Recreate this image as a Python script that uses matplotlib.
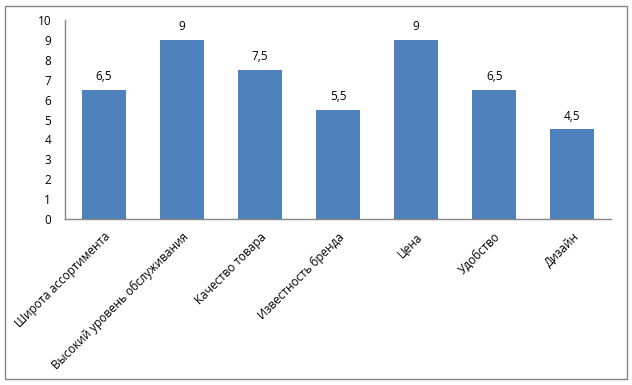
import matplotlib
matplotlib.use('Agg')
import matplotlib.pyplot as plt
from matplotlib.patches import Rectangle

categories = ['Широта ассортимента', 'Высокий уровень обслуживания', 'Качество товара',
              'Известность бренда', 'Цена', 'Удобство', 'Дизайн']
values = [6.5, 9, 7.5, 5.5, 9, 6.5, 4.5]
y_ticks = list(range(0, 11))

plt.rcParams['font.family'] = ['Open Sans', 'DejaVu Sans']

fig = plt.figure(figsize=(6.32, 3.85), dpi=100)
ax = fig.add_axes([0.103, 0.431, 0.864, 0.517])

x = range(len(categories))
bars = ax.bar(x, values, width=0.57, color='#4F81BD', zorder=2)

for b, v in zip(bars, values):
    txt = ('%g' % v).replace('.', ',')
    ax.annotate(txt, (b.get_x() + b.get_width() / 2, v), xytext=(0, 5),
                textcoords='offset points', ha='center', va='bottom', fontsize=8.5)

ax.set_xlim(-0.5, len(categories) - 0.5)
ax.set_ylim(0, 10)
ax.set_yticks(y_ticks)
ax.set_xticks(list(x))
ax.set_xticklabels(categories, rotation=45, ha='right', rotation_mode='anchor', fontsize=8.5)
ax.tick_params(axis='both', length=0, labelsize=8.5)
ax.tick_params(axis='y', pad=10)
ax.tick_params(axis='x', pad=8)

for s in ['top', 'right']:
    ax.spines[s].set_visible(False)
for s in ['left', 'bottom']:
    ax.spines[s].set_color('#868686')
    ax.spines[s].set_linewidth(1)

# chart border
fig.patches.append(Rectangle((5 / 632, 6 / 385), 622 / 632, 373 / 385, transform=fig.transFigure,
                             fill=False, edgecolor='#868686', linewidth=1))

fig.savefig('out.png', dpi=100)
